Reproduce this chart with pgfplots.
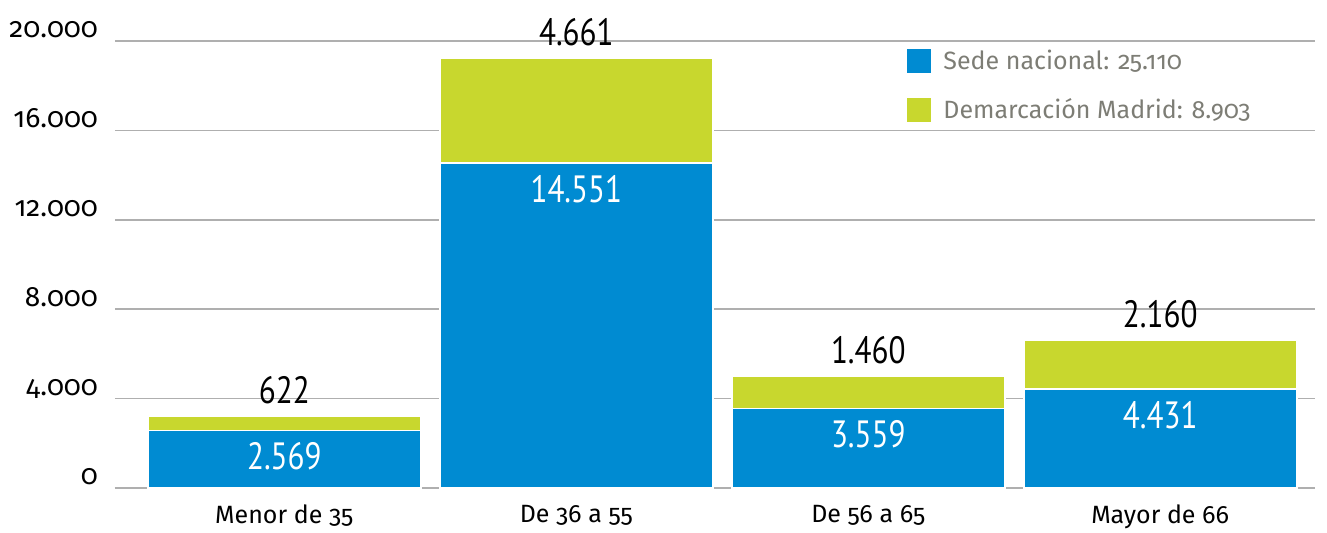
\documentclass[border=0pt]{standalone}
\usepackage{pgfplots}
\pgfplotsset{compat=1.18}
\usepackage{fontspec}
\setmainfont{Fira Sans}[Numbers=OldStyle]
\newfontfamily\valfont[FakeStretch=0.82]{PT Sans}
\definecolor{azul}{RGB}{0,139,210}
\definecolor{verde}{RGB}{200,215,46}
\definecolor{rejilla}{RGB}{175,175,175}
\definecolor{leyenda}{RGB}{125,125,117}
\pgfplotsset{marco/.style={
  at={(57.5pt,22.5pt)}, anchor=south west,
  scale only axis, width=600pt, height=223.5pt,
  xmin=-0.58, xmax=3.53, ymin=0, ymax=20000,
  clip=false, axis line style={draw=none}, major tick length=0pt}}
\begin{document}
\begin{tikzpicture}
\path[use as bounding box] (0,0) rectangle (663.5pt,266.5pt);
\begin{axis}[marco,
  ybar stacked, bar width=136.5pt,
  scaled y ticks=false,
  xtick={0,1,2,3},
  xticklabels={Menor de 35,De 36 a 55,De 56 a 65,Mayor de 66},
  xticklabel style={font=\fontsize{12.5}{13}\selectfont, yshift=-5pt},
  ytick={0,4000,8000,12000,16000,20000},
  yticklabels={0,4.000,8.000,12.000,16.000,20.000},
  yticklabel style={font=\fontsize{14}{14}\selectfont, anchor=base east, xshift=-5pt, yshift=1.5pt},
  ymajorgrids, grid style={rejilla, line width=0.8pt},
  legend style={at={(0.66,0.99)}, anchor=north west, draw=none, fill=none,
    font=\fontsize{12.5}{13}\selectfont, text=leyenda, inner sep=0pt,
    row sep=9pt},
  legend image code/.code={\fill[#1, draw=none] (0pt,-6pt) rectangle (12pt,6pt);},
  legend cell align=left,
]
\addplot[fill=azul, draw=white, line width=0.8pt]
  coordinates {(0,2569) (1,14551) (2,3559) (3,4431)};
\addlegendentry{\hspace{4pt}Sede nacional: 25.110}
\addplot[fill=verde, draw=white, line width=0.8pt]
  coordinates {(0,622) (1,4661) (2,1460) (3,2160)};
\addlegendentry{\hspace{4pt}Demarcación Madrid: 8.903}
\draw[rejilla, line width=0.8pt] (axis cs:-0.58,0) -- (axis cs:3.53,0);
\end{axis}
% labels at the top of each segment
\begin{axis}[marco, hide axis, point meta=explicit symbolic, nodes near coords,
  every node near coord/.append style={anchor=center, font=\valfont\fontsize{19}{19}\selectfont}]
\addplot[draw=none, mark=none, every node near coord/.append style={yshift=-13pt, text=white}]
  coordinates {(0,2569) [2.569] (1,14551) [14.551] (2,3559) [3.559] (3,4431) [4.431]};
\addplot[draw=none, mark=none, every node near coord/.append style={yshift=13pt, text=black}]
  coordinates {(0,3191) [622] (1,19212) [4.661] (2,5019) [1.460] (3,6591) [2.160]};
\end{axis}
\end{tikzpicture}
\end{document}
